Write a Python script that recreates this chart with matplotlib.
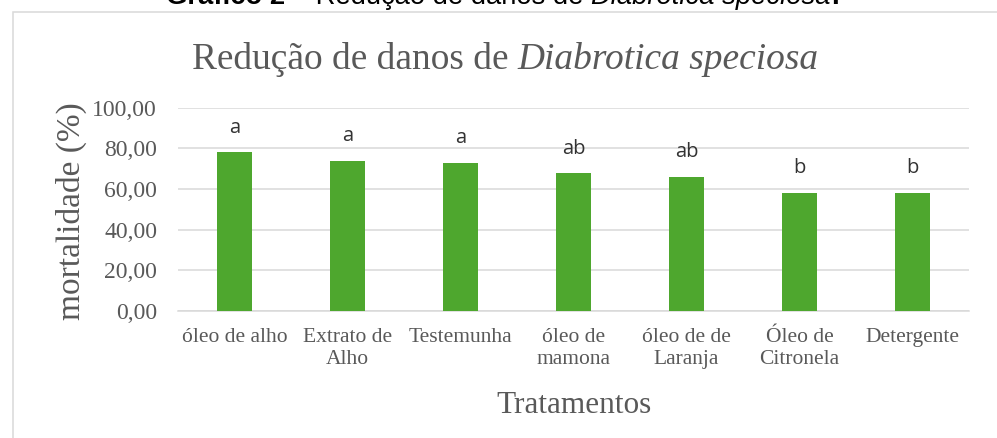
import matplotlib
matplotlib.use("Agg")
import matplotlib.pyplot as plt
from matplotlib.patches import Rectangle

# ---------------- data ----------------
categorias = ["óleo de alho", "Extrato de\nAlho", "Testemunha", "óleo de\nmamona",
              "óleo de de\nLaranja", "Óleo de\nCitronela", "Detergente"]
mortalidade = [78.0, 73.8, 72.8, 67.6, 66.0, 58.2, 58.2]
letras = ["a", "a", "a", "ab", "ab", "b", "b"]
yticks = [0, 20, 40, 60, 80, 100]

# ---------------- styles ----------------
W, H = 997, 438
SERIF = "Liberation Serif"
SANS = "Liberation Sans"
GRAY = "#595959"
GRID = "#d9d9d9"
GREEN = "#4EA72E"

fig = plt.figure(figsize=(W / 100, H / 100), dpi=100)
ax = fig.add_axes([178 / W, 1 - 311 / H, (969 - 178) / W, (311 - 107.5) / H])

x = list(range(len(categorias)))
ax.bar(x, mortalidade, width=0.31, color=GREEN, zorder=3)
ax.set_xlim(-0.5, len(categorias) - 0.5)
ax.set_ylim(0, 100)

ax.set_yticks(yticks)
ax.set_yticklabels([f"{v:.2f}".replace(".", ",") for v in yticks],
                   fontfamily=SERIF, fontsize=17, color=GRAY)
ax.set_xticks(x)
ax.set_xticklabels(categorias, fontfamily=SERIF, fontsize=15.5, color=GRAY,
                   linespacing=1.25)
ax.tick_params(axis="y", length=0, pad=15)
ax.tick_params(axis="x", length=0, pad=12)
ax.yaxis.grid(True, color=GRID, lw=1.1)
ax.set_axisbelow(True)
for s in ["top", "right", "left"]:
    ax.spines[s].set_visible(False)
ax.spines["bottom"].set_color(GRID)
ax.spines["bottom"].set_linewidth(1.1)

for xi, v, l in zip(x, mortalidade, letras):
    ax.text(xi, v + 12, l, ha="center", va="center", fontsize=14.5,
            color="#333333", family="Open Sans", zorder=4)

# axis titles
fig.text(71 / W, 1 - 211 / H, "mortalidade (%)", rotation=90, ha="center",
         va="center", fontsize=24, family=SERIF, color=GRAY)
fig.text(573.5 / W, 1 - 413 / H, "Tratamentos", ha="center", va="baseline",
         fontsize=22.5, family=SERIF, color=GRAY)

# chart area border (only top and left visible)
fig.patches.append(Rectangle((13 / W, -0.2), 2, 1 - 12 / H + 0.2,
                             transform=fig.transFigure, fill=False,
                             ec=GRID, lw=1.1))

renderer = fig.canvas.get_renderer()


def piece_width(txt, props):
    t1 = fig.text(0, 0, "|" + txt + "|", **props)
    t2 = fig.text(0, 0, "||", **props)
    w = t1.get_window_extent(renderer).width - t2.get_window_extent(renderer).width
    t1.remove()
    t2.remove()
    return w


def draw_pieces(pieces, cx, base_y, size, target_w=None):
    if target_w is not None:
        tot = sum(piece_width(t, dict(p, fontsize=size)) for t, p in pieces)
        size = size * target_w / tot
    widths = [piece_width(t, dict(p, fontsize=size)) for t, p in pieces]
    xs = cx - sum(widths) / 2
    for (t, p), w in zip(pieces, widths):
        fig.text(xs / W, 1 - base_y / H, t, ha="left", va="baseline",
                 fontsize=size, **p)
        xs += w


# chart title
draw_pieces([("Redução de danos de ", dict(family=SERIF, color=GRAY)),
             ("Diabrotica speciosa", dict(family=SERIF, color=GRAY, style="italic"))],
            505.5, 69, 26, target_w=625)

# caption (cut off at the top of the image, as in the reference)
draw_pieces([("Gráfico 2", dict(family=SANS, color="black", weight="bold")),
             (" – Redução de danos de ", dict(family=SANS, color="black")),
             ("Diabrotica speciosa", dict(family=SANS, color="black", style="italic")),
             (".", dict(family=SANS, color="black", weight="bold"))],
            502.5, 4.5, 14, target_w=675)

fig.savefig("out.png", dpi=100)
